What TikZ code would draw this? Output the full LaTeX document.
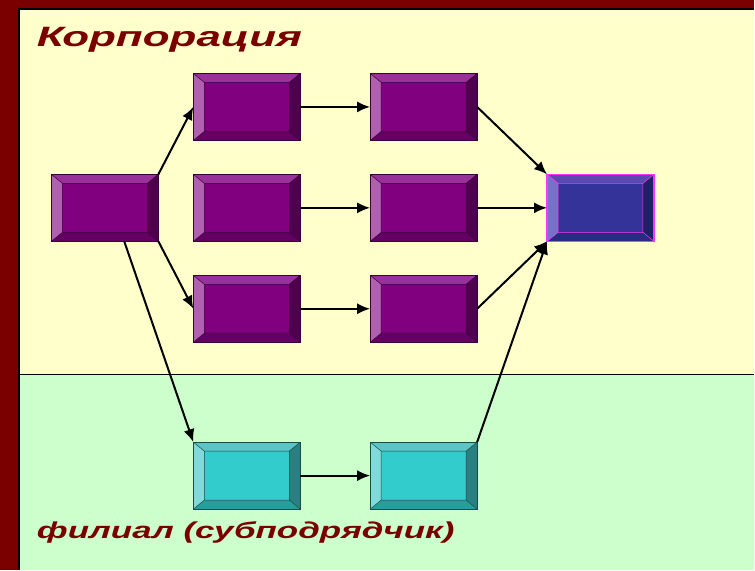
\documentclass[tikz,border=0pt]{standalone}
\usepackage{fontspec}
\setmainfont{Liberation Sans}
\usetikzlibrary{arrows.meta,positioning,calc}
\definecolor{frameRed}{HTML}{7A0000}
\definecolor{corpBack}{HTML}{FFFFCC}
\definecolor{subBack}{HTML}{CCFFCC}
% purple boxes of the corporation
\definecolor{corpFace}{HTML}{800080}
\definecolor{corpTop}{HTML}{9A309A}
\definecolor{corpLeft}{HTML}{B060B0}
\definecolor{corpRight}{HTML}{4E004E}
\definecolor{corpBot}{HTML}{640064}
\definecolor{corpLine}{HTML}{3A003A}
% the final box
\definecolor{goalFace}{HTML}{333399}
\definecolor{goalTop}{HTML}{5A4AB0}
\definecolor{goalLeft}{HTML}{7A70C8}
\definecolor{goalRight}{HTML}{202066}
\definecolor{goalBot}{HTML}{2A2A80}
\definecolor{goalLine}{HTML}{FF33FF}
% cyan boxes of the branch
\definecolor{subFace}{HTML}{33CCCC}
\definecolor{subTop}{HTML}{5CC4C4}
\definecolor{subLeft}{HTML}{80DADA}
\definecolor{subRight}{HTML}{2A8080}
\definecolor{subBot}{HTML}{2A9C9C}
\definecolor{subLine}{HTML}{1A4A4A}
\def\bvx{11pt}
\def\bvy{9pt}

\begin{document}
\begin{tikzpicture}[x=1pt,y=-1pt,% pixel-like units, y runs down
					every node/.style={inner sep=0pt, outer sep=0pt},
					box/.style={
						rectangle, minimum width=107pt, minimum height=67pt,
						draw=#1Line, fill=#1Face, line width=0.8pt,
						path picture={
							\coordinate (o1) at (path picture bounding box.north west);
							\coordinate (o2) at (path picture bounding box.north east);
							\coordinate (o3) at (path picture bounding box.south east);
							\coordinate (o4) at (path picture bounding box.south west);
							\coordinate (i1) at ($(o1)+(\bvx,-\bvy)$);
							\coordinate (i2) at ($(o2)+(-\bvx,-\bvy)$);
							\coordinate (i3) at ($(o3)+(-\bvx,\bvy)$);
							\coordinate (i4) at ($(o4)+(\bvx,\bvy)$);
							\fill[#1Top] (o1)--(o2)--(i2)--(i1)--cycle;
							\fill[#1Right] (o2)--(o3)--(i3)--(i2)--cycle;
							\fill[#1Bot] (o3)--(o4)--(i4)--(i3)--cycle;
							\fill[#1Left] (o4)--(o1)--(i1)--(i4)--cycle;
							\draw[#1Line, line width=0.5pt] (i1) rectangle (i3)
								(o1)--(i1) (o2)--(i2) (o3)--(i3) (o4)--(i4);
							}
						},
					title/.style={font=\fontsize{#1}{#1}\selectfont\bfseries\itshape, text=frameRed, anchor=base west},
					arr/.style={-{Latex[length=13pt,width=11pt]}, line width=2pt}
					]
% frame and the two areas
\fill[frameRed] (0,0) rectangle (755,570);
\fill[corpBack] (19,9) rectangle (755,375);
\fill[subBack] (19,375) rectangle (755,570);
\draw[line width=1.2pt] (19,570) -- (19,9) -- (755,9);
\draw[line width=1.2pt] (19,375) -- (755,375);

\node[title=28, xscale=1.57] (corp) at (37,47) {Корпорация};
\node[title=23, xscale=1.52] (branch) at (37,539) {филиал (субподрядчик)};

% boxes
\node[box=corp] (src) at (105,208) {};
\node[box=corp, right=35pt of src] (mid2) {};
\node[box=corp, above=34pt of mid2] (mid1) {};
\node[box=corp, below=34pt of mid2] (mid3) {};
\node[box=corp, right=70pt of mid1] (nxt1) {};
\node[box=corp, right=70pt of mid2] (nxt2) {};
\node[box=corp, right=70pt of mid3] (nxt3) {};
\node[box=goal, line width=1.5pt, right=70pt of nxt2] (goal) {};
\node[box=sub, below=100pt of mid3] (sub1) {};
\node[box=sub, right=70pt of sub1] (sub2) {};

% arrows
\draw[arr] (src.north east) -- (mid1.west);
\draw[arr] (src.south east) -- (mid3.west);
\draw[arr] (src.-60) -- (sub1.north west);
\draw[arr] (mid1) -- (nxt1);
\draw[arr] (mid2) -- (nxt2);
\draw[arr] (mid3) -- (nxt3);
\draw[arr] (sub1) -- (sub2);
\draw[arr] (nxt1.east) -- (goal.north west);
\draw[arr] (nxt2) -- (goal);
\draw[arr] (nxt3.east) -- (goal.south west);
\draw[arr] (sub2.north east) -- (goal.south west);
\end{tikzpicture}
\end{document}
